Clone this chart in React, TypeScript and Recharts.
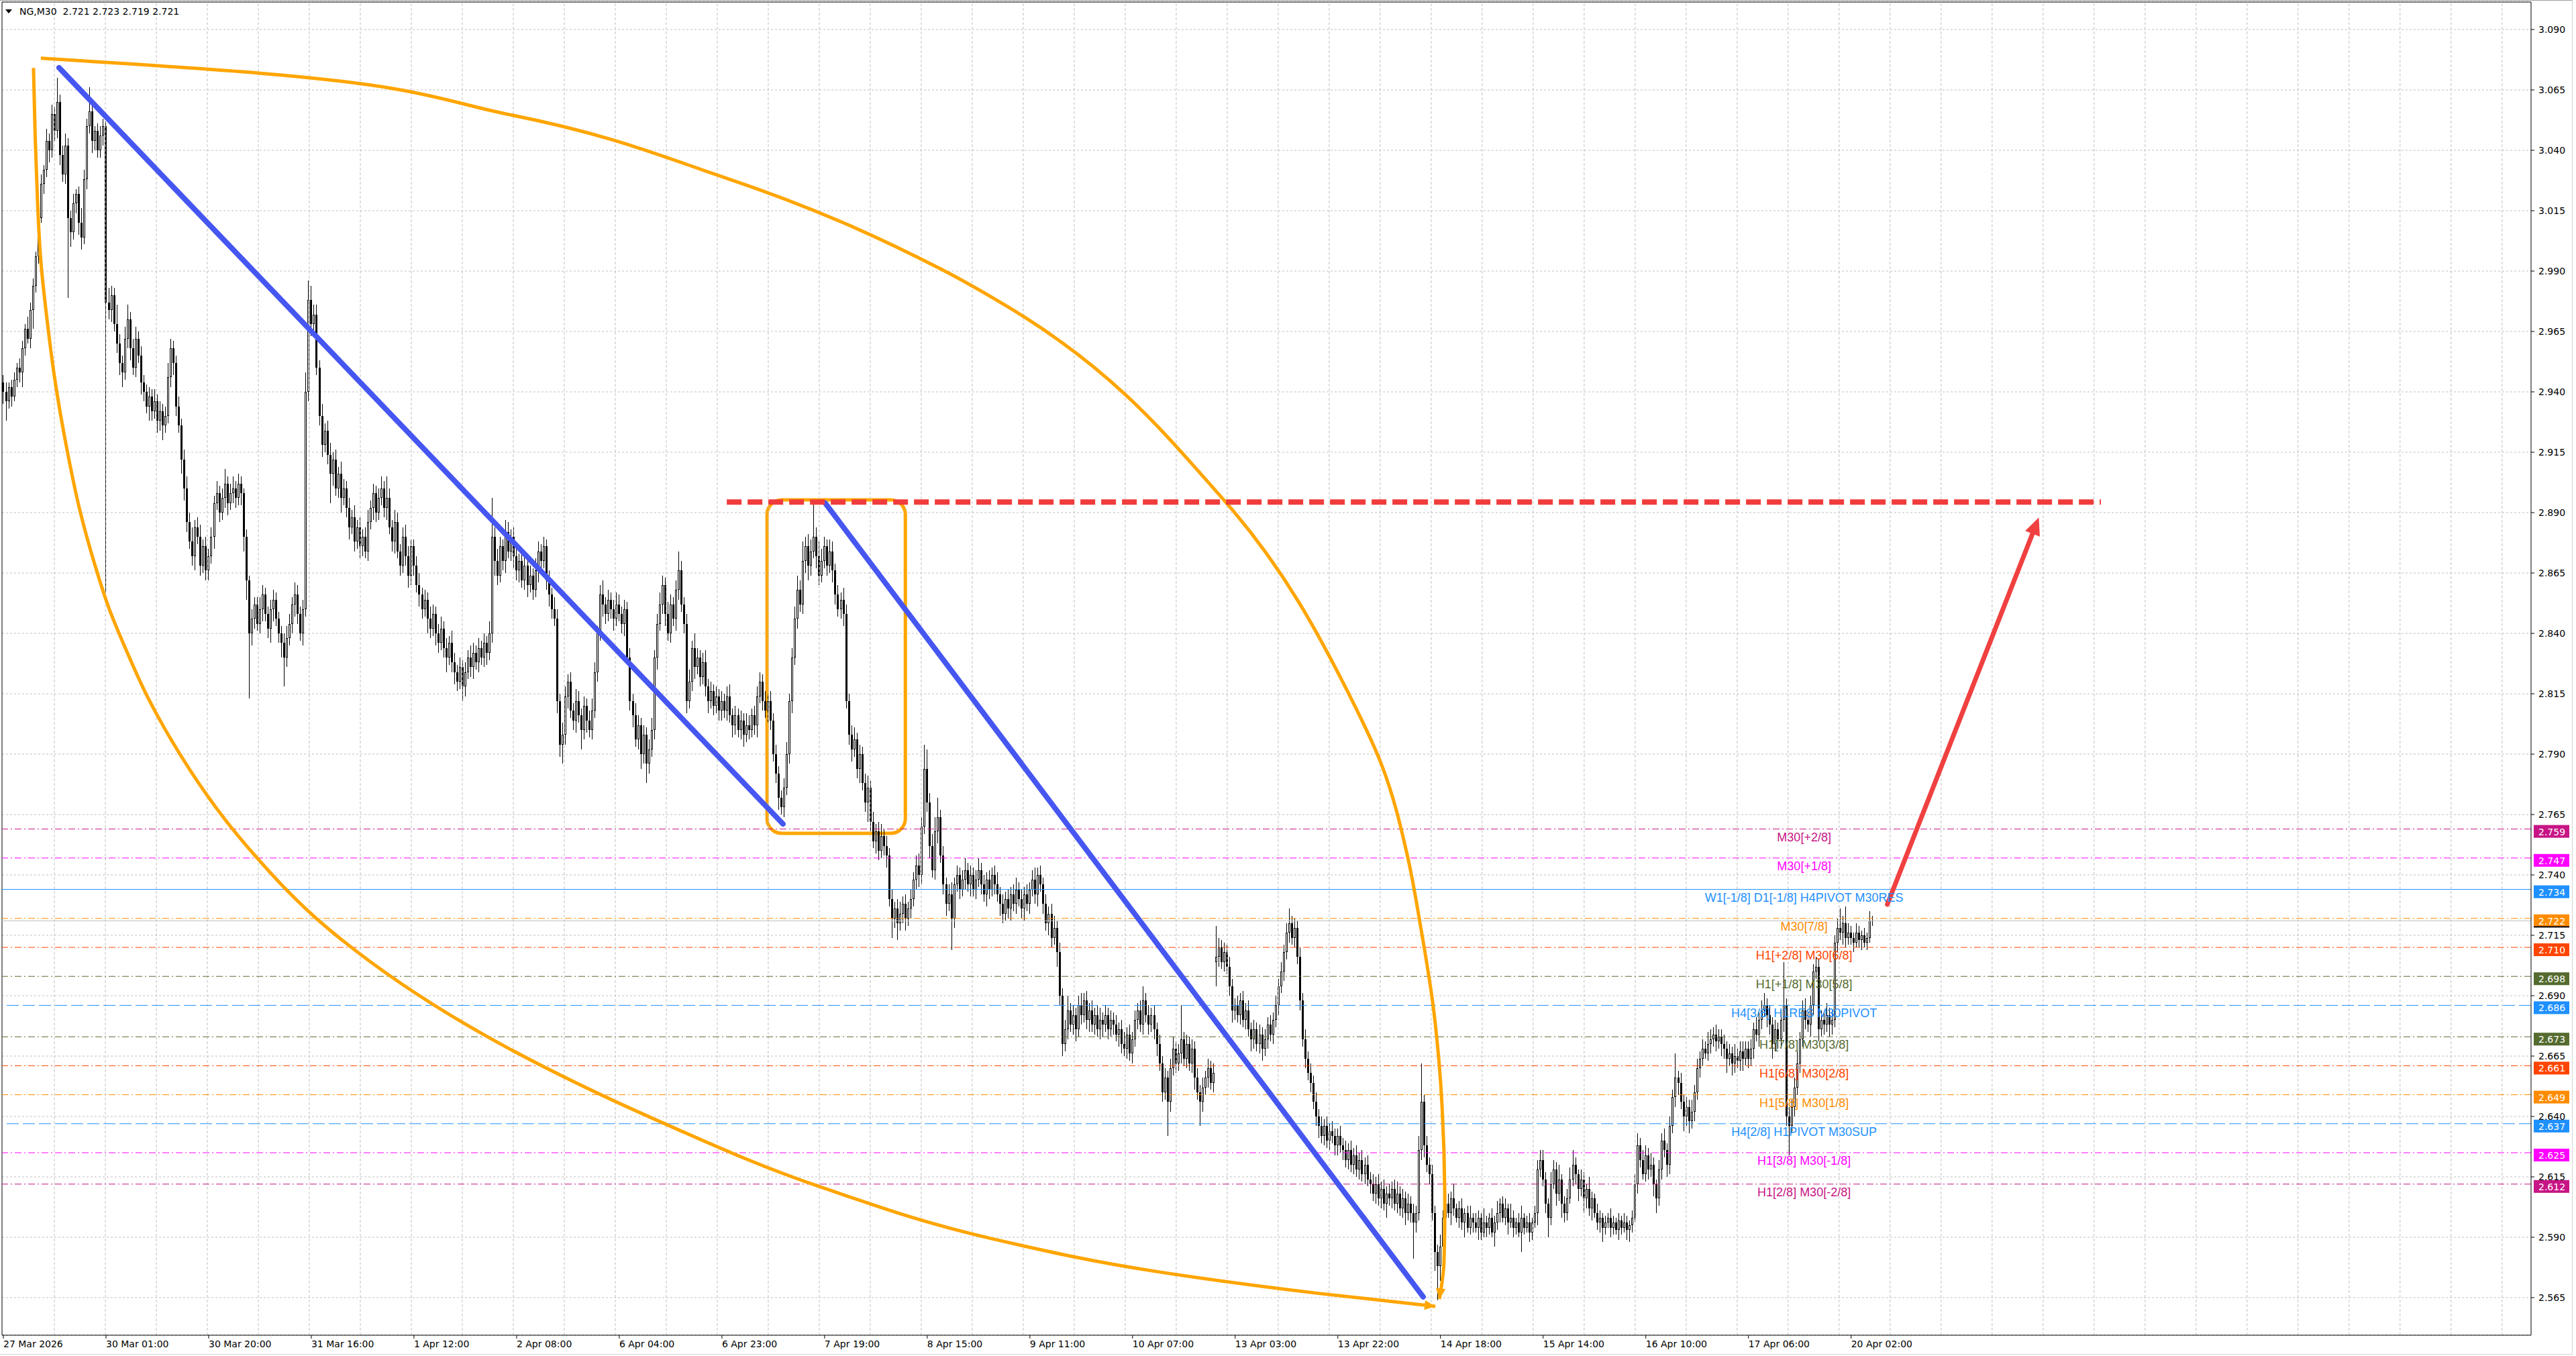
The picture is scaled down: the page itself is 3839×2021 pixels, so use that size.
import React from "react";
import {
  ComposedChart, Bar, Line, XAxis, YAxis, CartesianGrid,
  ReferenceLine, ReferenceArea, ReferenceDot,
} from "recharts";

const W = 3839;
const H = 2021;

// x = bar index (M30 bars), y = price
const xMin = -0.5;
const xMax = 935.7;
const yMin = 2.549446;
const yMax = 3.10139;

const header = "NG,M30  2.721 2.723 2.719 2.721";

const dateTicks = [0, 38, 76, 114, 152, 190, 228, 266, 304, 342, 380, 418, 456, 494, 532, 570, 608, 646, 684];
const dateLabels = [
  "27 Mar 2026", "30 Mar 01:00", "30 Mar 20:00", "31 Mar 16:00", "1 Apr 12:00", "2 Apr 08:00",
  "6 Apr 04:00", "6 Apr 23:00", "7 Apr 19:00", "8 Apr 15:00", "9 Apr 11:00", "10 Apr 07:00",
  "13 Apr 03:00", "13 Apr 22:00", "14 Apr 18:00", "15 Apr 14:00", "16 Apr 10:00", "17 Apr 06:00",
  "20 Apr 02:00",
];
const priceTicks = [
  2.565, 2.59, 2.615, 2.64, 2.665, 2.69, 2.715, 2.74, 2.765, 2.79, 2.815,
  2.84, 2.865, 2.89, 2.915, 2.94, 2.965, 2.99, 3.015, 3.04, 3.065, 3.09,
];
const gridStepBars = 18.877;

// closes in thousandths, one block per date label (38 bars)
const b00 = [2940, 2936, 2942, 2938, 2945, 2950, 2948, 2958, 2966, 2962, 2974, 2984, 2996, 3012, 3026, 3032, 3044, 3040, 3055, 3048, 3060, 3038, 3030, 3042, 3012, 3006, 3018, 3022, 3010, 3004, 3028, 3050, 3056, 3044, 3048, 3040, 3046, 3050];
const b01 = [2977, 2974, 2980, 2968, 2960, 2952, 2948, 2962, 2970, 2958, 2950, 2962, 2955, 2944, 2940, 2934, 2938, 2932, 2936, 2928, 2932, 2926, 2930, 2946, 2958, 2952, 2934, 2926, 2912, 2900, 2886, 2878, 2872, 2884, 2880, 2868, 2876, 2866];
const b02 = [2872, 2880, 2894, 2898, 2890, 2896, 2902, 2894, 2898, 2900, 2896, 2902, 2898, 2880, 2862, 2840, 2846, 2852, 2844, 2850, 2856, 2848, 2842, 2850, 2854, 2846, 2840, 2836, 2830, 2838, 2844, 2852, 2856, 2848, 2840, 2850, 2940, 2978];
const b03 = [2968, 2972, 2950, 2930, 2918, 2924, 2914, 2906, 2912, 2900, 2906, 2896, 2900, 2892, 2884, 2888, 2878, 2884, 2876, 2880, 2874, 2886, 2892, 2898, 2890, 2896, 2900, 2892, 2896, 2884, 2878, 2886, 2874, 2868, 2880, 2872, 2864, 2876];
const b04 = [2868, 2860, 2856, 2850, 2854, 2846, 2842, 2848, 2840, 2836, 2842, 2834, 2830, 2836, 2828, 2824, 2820, 2826, 2818, 2824, 2830, 2826, 2832, 2828, 2834, 2830, 2836, 2832, 2840, 2880, 2870, 2864, 2876, 2870, 2882, 2874, 2880, 2872];
const b05 = [2866, 2870, 2862, 2868, 2860, 2864, 2858, 2866, 2874, 2870, 2876, 2862, 2856, 2850, 2846, 2812, 2794, 2798, 2814, 2820, 2808, 2804, 2812, 2806, 2800, 2810, 2804, 2800, 2808, 2824, 2840, 2856, 2852, 2848, 2854, 2850, 2846, 2852];
const b06 = [2848, 2844, 2850, 2830, 2812, 2806, 2796, 2802, 2790, 2798, 2786, 2792, 2800, 2830, 2844, 2852, 2860, 2848, 2840, 2852, 2846, 2858, 2866, 2852, 2844, 2812, 2820, 2834, 2826, 2830, 2822, 2828, 2818, 2812, 2816, 2810, 2814, 2808];
const b07 = [2812, 2808, 2814, 2806, 2802, 2806, 2800, 2804, 2798, 2802, 2800, 2806, 2802, 2814, 2820, 2812, 2808, 2812, 2804, 2790, 2782, 2772, 2768, 2776, 2790, 2812, 2830, 2846, 2858, 2852, 2870, 2876, 2868, 2874, 2880, 2872, 2864, 2870];
const b08 = [2876, 2868, 2874, 2866, 2856, 2850, 2854, 2848, 2812, 2798, 2792, 2796, 2784, 2790, 2778, 2770, 2776, 2762, 2754, 2758, 2750, 2756, 2752, 2748, 2730, 2722, 2726, 2720, 2724, 2728, 2722, 2726, 2730, 2738, 2744, 2740, 2760, 2784];
const b09 = [2770, 2752, 2742, 2758, 2764, 2748, 2736, 2728, 2732, 2722, 2736, 2740, 2734, 2738, 2742, 2736, 2740, 2734, 2738, 2742, 2736, 2732, 2738, 2734, 2740, 2736, 2732, 2728, 2724, 2730, 2726, 2732, 2728, 2734, 2730, 2726, 2732, 2728];
const b10 = [2734, 2738, 2732, 2740, 2736, 2728, 2720, 2724, 2714, 2718, 2708, 2690, 2670, 2676, 2684, 2678, 2682, 2676, 2686, 2682, 2688, 2680, 2684, 2678, 2682, 2676, 2680, 2678, 2682, 2676, 2680, 2678, 2674, 2676, 2670, 2668, 2674, 2666];
const b11 = [2672, 2680, 2684, 2678, 2688, 2682, 2678, 2682, 2676, 2670, 2662, 2650, 2656, 2646, 2660, 2668, 2662, 2666, 2672, 2664, 2670, 2662, 2668, 2656, 2650, 2646, 2652, 2656, 2660, 2654, 2658, 2706, 2710, 2704, 2708, 2702, 2694, 2684];
const b12 = [2686, 2682, 2688, 2680, 2684, 2676, 2672, 2676, 2670, 2674, 2668, 2672, 2678, 2674, 2680, 2686, 2694, 2700, 2708, 2716, 2720, 2714, 2718, 2706, 2688, 2672, 2664, 2658, 2654, 2646, 2640, 2636, 2632, 2636, 2630, 2634, 2632, 2628];
const b13 = [2632, 2628, 2626, 2622, 2626, 2620, 2624, 2618, 2622, 2616, 2620, 2614, 2612, 2608, 2612, 2606, 2610, 2604, 2608, 2606, 2610, 2604, 2608, 2602, 2606, 2600, 2604, 2600, 2596, 2600, 2626, 2646, 2628, 2620, 2616, 2600, 2584, 2578];
const b14 = [2586, 2598, 2604, 2600, 2606, 2602, 2598, 2602, 2596, 2600, 2594, 2598, 2596, 2594, 2598, 2592, 2596, 2594, 2598, 2592, 2596, 2600, 2604, 2598, 2602, 2596, 2598, 2594, 2596, 2592, 2598, 2594, 2596, 2592, 2596, 2600, 2618, 2622];
const b15 = [2614, 2604, 2598, 2612, 2618, 2608, 2614, 2604, 2600, 2606, 2614, 2620, 2616, 2610, 2614, 2606, 2610, 2602, 2606, 2600, 2596, 2598, 2594, 2596, 2598, 2594, 2596, 2593, 2597, 2594, 2596, 2593, 2595, 2598, 2612, 2628, 2622, 2616];
const b16 = [2624, 2618, 2620, 2612, 2606, 2618, 2630, 2626, 2620, 2636, 2648, 2656, 2654, 2646, 2640, 2644, 2638, 2642, 2650, 2660, 2664, 2668, 2666, 2670, 2672, 2674, 2671, 2673, 2670, 2668, 2664, 2666, 2662, 2665, 2663, 2667, 2664, 2668];
const b17 = [2664, 2668, 2676, 2674, 2680, 2684, 2686, 2682, 2678, 2670, 2676, 2672, 2680, 2686, 2640, 2636, 2644, 2652, 2662, 2672, 2684, 2680, 2678, 2686, 2700, 2702, 2676, 2680, 2678, 2682, 2678, 2680, 2712, 2718, 2716, 2720, 2714, 2716];
const b18 = [2714, 2712, 2716, 2713, 2715, 2712, 2714, 2721, 2721];

// upper wicks (thousandths above the body)
const u00 = [3, 4, 2, 3, 3, 2, 4, 3, 2, 5, 3, 3, 2, 3, 4, 2, 5, 3, 4, 3, 10, 3, 4, 5, 3, 3, 4, 2, 3, 6, 4, 3, 10, 4, 2, 3, 4, 3];
const u01 = [2, 6, 4, 3, 8, 4, 3, 5, 6, 3, 4, 5, 3, 4, 3, 3, 4, 3, 5, 3, 4, 3, 4, 6, 4, 3, 3, 4, 3, 4, 5, 4, 6, 3, 4, 5, 3, 4];
const u02 = [3, 4, 3, 5, 3, 4, 6, 3, 4, 5, 3, 4, 3, 2, 3, 2, 4, 3, 3, 5, 4, 3, 3, 4, 4, 3, 3, 3, 4, 5, 4, 3, 5, 4, 3, 4, 8, 8];
const u03 = [6, 4, 4, 3, 5, 3, 4, 5, 3, 4, 3, 5, 4, 3, 4, 3, 5, 3, 4, 3, 4, 5, 3, 4, 3, 4, 5, 3, 9, 4, 3, 5, 4, 3, 4, 5, 4, 3];
const u04 = [3, 4, 5, 3, 4, 3, 5, 4, 3, 4, 5, 3, 4, 3, 5, 4, 3, 4, 3, 4, 3, 5, 4, 3, 4, 3, 4, 3, 5, 16, 4, 5, 4, 3, 5, 4, 3, 4];
const u05 = [4, 3, 5, 4, 3, 4, 3, 5, 4, 3, 4, 3, 4, 3, 5, 4, 3, 5, 4, 3, 4, 3, 5, 4, 3, 4, 3, 4, 5, 4, 3, 4, 6, 3, 4, 3, 4, 5];
const u06 = [4, 3, 4, 3, 4, 3, 5, 4, 3, 4, 3, 4, 5, 3, 4, 5, 4, 3, 5, 4, 3, 4, 8, 4, 3, 4, 5, 3, 6, 4, 3, 4, 5, 3, 4, 3, 4, 3];
const u07 = [4, 3, 4, 5, 3, 4, 3, 4, 3, 5, 4, 3, 4, 4, 4, 3, 4, 3, 4, 3, 4, 3, 3, 4, 5, 3, 4, 5, 6, 4, 8, 4, 5, 5, 14, 4, 6, 5];
const u08 = [4, 3, 5, 4, 3, 4, 3, 5, 4, 3, 4, 5, 3, 4, 3, 4, 5, 3, 4, 3, 4, 5, 3, 4, 3, 4, 3, 4, 5, 3, 4, 3, 4, 3, 4, 5, 4, 10];
const u09 = [8, 4, 5, 6, 8, 3, 4, 3, 4, 5, 3, 4, 3, 4, 5, 3, 4, 3, 4, 5, 3, 4, 3, 4, 3, 4, 5, 3, 4, 3, 4, 3, 4, 5, 3, 4, 3, 4];
const u10 = [3, 4, 5, 3, 4, 3, 4, 3, 4, 5, 3, 4, 3, 4, 6, 3, 4, 3, 4, 5, 3, 4, 3, 4, 3, 4, 5, 3, 4, 3, 4, 3, 4, 3, 4, 5, 3, 4];
const u11 = [3, 4, 3, 4, 6, 3, 4, 3, 4, 3, 4, 3, 4, 3, 4, 5, 3, 4, 14, 3, 4, 3, 4, 3, 4, 3, 4, 3, 4, 3, 4, 13, 4, 3, 4, 3, 4, 3];
const u12 = [3, 4, 3, 4, 3, 4, 3, 4, 3, 4, 3, 4, 3, 4, 3, 4, 3, 4, 3, 4, 6, 3, 4, 3, 4, 3, 4, 3, 4, 3, 4, 3, 4, 3, 4, 3, 4, 3];
const u13 = [3, 4, 3, 4, 3, 4, 3, 4, 3, 4, 3, 4, 3, 4, 3, 4, 3, 4, 3, 4, 3, 4, 5, 3, 4, 3, 4, 3, 4, 3, 6, 16, 3, 4, 3, 4, 3, 3];
const u14 = [5, 3, 2, 4, 3, 6, 2, 3, 4, 2, 3, 5, 2, 4, 3, 2, 6, 3, 2, 4, 3, 5, 2, 3, 4, 2, 6, 3, 2, 4, 5, 2, 3, 4, 2, 3, 4, 4];
const u15 = [4, 3, 2, 5, 4, 3, 6, 2, 3, 4, 5, 6, 3, 2, 4, 3, 2, 5, 3, 2, 4, 3, 2, 3, 2, 4, 3, 2, 3, 2, 4, 3, 2, 3, 4, 5, 3, 4];
const u16 = [4, 3, 5, 3, 2, 4, 3, 5, 3, 4, 3, 10, 3, 4, 3, 4, 3, 5, 3, 4, 3, 4, 3, 5, 4, 3, 4, 3, 3, 4, 3, 4, 3, 5, 3, 4, 4, 3];
const u17 = [3, 4, 3, 5, 3, 4, 5, 3, 4, 3, 4, 3, 4, 18, 3, 4, 3, 4, 5, 3, 4, 5, 3, 4, 3, 4, 3, 4, 3, 5, 3, 4, 3, 4, 8, 3, 7, 4];
const u18 = [3, 2, 4, 3, 2, 3, 2, 4, 2];

// lower wicks (thousandths below the body)
const d00 = [5, 8, 3, 4, 2, 3, 4, 6, 3, 2, 4, 8, 3, 3, 2, 4, 3, 5, 3, 4, 3, 4, 3, 4, 33, 6, 3, 4, 5, 5, 3, 4, 3, 5, 4, 3, 3, 4];
const d01 = [120, 4, 5, 3, 4, 5, 6, 3, 4, 5, 3, 4, 3, 5, 4, 3, 6, 4, 3, 5, 4, 6, 3, 3, 4, 5, 4, 3, 6, 5, 4, 3, 4, 6, 3, 4, 3, 4];
const d02 = [4, 3, 5, 3, 4, 3, 4, 5, 3, 4, 4, 3, 5, 6, 8, 27, 5, 4, 3, 4, 5, 3, 4, 6, 5, 3, 4, 6, 12, 4, 3, 4, 5, 4, 3, 5, 3, 4];
const d03 = [5, 4, 3, 4, 5, 3, 4, 12, 5, 3, 4, 6, 3, 4, 5, 3, 4, 3, 5, 4, 3, 4, 3, 5, 4, 3, 3, 4, 5, 3, 4, 5, 3, 4, 3, 4, 5, 4];
const d04 = [4, 3, 5, 4, 3, 6, 4, 3, 5, 4, 3, 4, 6, 3, 4, 5, 4, 3, 6, 4, 3, 4, 5, 3, 4, 3, 4, 5, 3, 4, 6, 4, 3, 4, 5, 3, 4, 5];
const d05 = [4, 5, 3, 4, 5, 3, 4, 3, 5, 4, 3, 4, 5, 4, 3, 5, 5, 8, 4, 5, 3, 4, 5, 3, 8, 4, 5, 3, 4, 3, 4, 3, 5, 4, 3, 4, 5, 3];
const d06 = [3, 4, 5, 3, 4, 5, 3, 4, 6, 4, 8, 4, 3, 4, 5, 3, 4, 5, 3, 4, 3, 5, 4, 3, 4, 5, 3, 4, 5, 3, 4, 3, 4, 5, 3, 4, 3, 4];
const d07 = [4, 3, 4, 3, 5, 4, 3, 4, 5, 3, 4, 3, 4, 5, 3, 4, 3, 5, 4, 3, 4, 5, 3, 4, 3, 4, 5, 3, 4, 3, 4, 5, 6, 4, 3, 5, 4, 3];
const d08 = [3, 4, 3, 5, 4, 3, 4, 5, 3, 4, 5, 3, 4, 6, 3, 4, 8, 4, 3, 5, 4, 3, 4, 5, 3, 8, 4, 7, 3, 4, 5, 3, 4, 3, 4, 5, 4, 3];
const d09 = [4, 5, 3, 4, 5, 3, 4, 5, 3, 13, 4, 3, 4, 3, 4, 3, 5, 3, 4, 3, 4, 3, 5, 4, 3, 4, 3, 5, 4, 3, 4, 5, 3, 4, 3, 4, 5, 3];
const d10 = [4, 3, 4, 5, 3, 4, 3, 5, 4, 3, 6, 4, 5, 3, 4, 3, 4, 5, 3, 4, 3, 4, 5, 3, 4, 3, 4, 5, 3, 4, 3, 4, 3, 5, 4, 3, 4, 3];
const d11 = [4, 3, 4, 3, 4, 3, 4, 3, 4, 5, 3, 4, 3, 14, 4, 3, 4, 3, 4, 3, 4, 3, 4, 5, 3, 10, 4, 3, 4, 3, 4, 10, 4, 3, 4, 3, 4, 5];
const d12 = [4, 3, 4, 3, 4, 3, 5, 4, 3, 4, 5, 3, 4, 3, 4, 3, 4, 3, 4, 3, 4, 3, 4, 3, 4, 3, 4, 3, 4, 3, 4, 5, 3, 4, 3, 4, 3, 4];
const d13 = [4, 3, 4, 3, 4, 3, 4, 3, 4, 3, 4, 3, 4, 3, 4, 3, 4, 3, 6, 3, 4, 3, 4, 3, 4, 5, 3, 4, 15, 4, 3, 4, 5, 3, 4, 3, 8, 14];
const d14 = [6, 3, 4, 2, 5, 3, 2, 4, 3, 6, 2, 3, 4, 2, 5, 3, 2, 4, 3, 2, 6, 3, 4, 2, 3, 5, 2, 4, 3, 2, 8, 3, 2, 4, 3, 2, 5, 3];
const d15 = [3, 4, 8, 3, 2, 5, 3, 6, 4, 3, 2, 3, 4, 5, 3, 6, 4, 3, 5, 2, 3, 4, 6, 3, 2, 4, 3, 2, 4, 3, 2, 4, 5, 3, 2, 4, 3, 2];
const d16 = [3, 4, 3, 5, 6, 3, 4, 3, 5, 4, 3, 4, 5, 3, 6, 4, 5, 3, 4, 3, 4, 3, 2, 3, 4, 3, 4, 3, 5, 4, 6, 3, 5, 4, 3, 4, 5, 3];
const d17 = [4, 3, 4, 3, 5, 4, 3, 5, 4, 6, 3, 4, 3, 5, 4, 12, 3, 4, 3, 4, 3, 4, 3, 5, 4, 3, 5, 3, 4, 3, 5, 4, 3, 4, 3, 5, 4, 3];
const d18 = [3, 4, 2, 3, 4, 2, 3, 2, 2];

const firstOpen = 2944;
const gapOpens: Record<number, number> = { 449: 2704 };

// Murrey-style levels on the right
const levelPrices = [2.759, 2.747, 2.734, 2.722, 2.71, 2.698, 2.686, 2.673, 2.661, 2.649, 2.637, 2.625, 2.612];
const levelNames = [
  "M30[+2/8]", "M30[+1/8]", "W1[-1/8] D1[-1/8] H4PIVOT M30RES", "M30[7/8]", "H1[+2/8] M30[6/8]",
  "H1[+1/8] M30[5/8]", "H4[3/8] H1RES M30PIVOT", "H1[7/8] M30[3/8]", "H1[6/8] M30[2/8]",
  "H1[5/8] M30[1/8]", "H4[2/8] H1PIVOT M30SUP", "H1[3/8] M30[-1/8]", "H1[2/8] M30[-2/8]",
];
const levelColors = [
  "#C71585", "#FF00FF", "#1E90FF", "#FF8C00", "#FF4500", "#556B2F", "#1E90FF",
  "#556B2F", "#FF4500", "#FF8C00", "#1E90FF", "#FF00FF", "#C71585",
];
const levelStyles = ["dd", "dd", "s", "dd", "dd", "dd", "d", "dd", "dd", "dd", "d", "dd", "dd"];
const levelLabelBar = 666.6;
const bidPrice = 2.721;

// drawn objects (bar index, price)
const trend1 = [{ x: 20.6, y: 3.0742 }, { x: 288.6, y: 2.7611 }];
const trend2 = [{ x: 304.2, y: 2.894 }, { x: 525.6, y: 2.5653 }];
const resistance = [{ x: 267.8, y: 2.8944 }, { x: 776.5, y: 2.8944 }];
const forecast = [{ x: 697.4, y: 2.7278 }, { x: 753.5, y: 2.888 }];
const boxBars = [282.7, 333.9];
const boxPrices = [2.7572, 2.8953];

const upperArc = [
  { i: 13.9, p: 3.0781 }, { i: 95.2, p: 3.0719 }, { i: 187.7, p: 3.0547 }, { i: 267.3, p: 3.0286 },
  { i: 346.6, p: 2.9911 }, { i: 371.7, p: 2.9753 }, { i: 451.5, p: 2.8956 }, { i: 500.0, p: 2.8106 },
  { i: 510.2, p: 2.7856 }, { i: 519.9, p: 2.7472 }, { i: 524.6, p: 2.7189 }, { i: 529.3, p: 2.6856 },
  { i: 532.6, p: 2.6439 }, { i: 533.6, p: 2.6025 }, { i: 533.3, p: 2.58 }, { i: 531.6, p: 2.5644 },
];
const lowerArc = [
  { i: 11.15, p: 3.0741 }, { i: 11.77, p: 3.046 }, { i: 12.59, p: 3.0205 }, { i: 13.81, p: 2.9949 },
  { i: 16.22, p: 2.9694 }, { i: 19.22, p: 2.9439 }, { i: 23.45, p: 2.9167 }, { i: 28.27, p: 2.8912 },
  { i: 33.68, p: 2.8691 }, { i: 39.1, p: 2.8504 }, { i: 45.7, p: 2.8325 }, { i: 53.55, p: 2.8133 },
  { i: 59.6, p: 2.8008 }, { i: 89.9, p: 2.7522 }, { i: 120.5, p: 2.7175 }, { i: 181.3, p: 2.6717 },
  { i: 242.2, p: 2.6383 }, { i: 303.1, p: 2.6106 }, { i: 366.7, p: 2.5892 }, { i: 426.9, p: 2.5758 },
  { i: 487.3, p: 2.5667 }, { i: 530.1, p: 2.5614 },
];

const closes = [b00, b01, b02, b03, b04, b05, b06, b07, b08, b09, b10, b11, b12, b13, b14, b15, b16, b17, b18].flat();
const upWick = [u00, u01, u02, u03, u04, u05, u06, u07, u08, u09, u10, u11, u12, u13, u14, u15, u16, u17, u18].flat();
const dnWick = [d00, d01, d02, d03, d04, d05, d06, d07, d08, d09, d10, d11, d12, d13, d14, d15, d16, d17, d18].flat();

const candles = closes.map((c, i) => {
  const o = gapOpens[i] ?? (i === 0 ? firstOpen : closes[i - 1]);
  const hi = Math.max(o, c) + (upWick[i] ?? 3);
  const lo = Math.min(o, c) - (dnWick[i] ?? 3);
  return { i, o: o / 1000, c: c / 1000, h: hi / 1000, l: lo / 1000, range: [lo / 1000, hi / 1000] };
});

const vGrid = Array.from({ length: 49 }, (_, k) => (k + 1) * gridStepBars);

const ORANGE = "#FFA500";
const BLUE = "#4656F0";
const RED = "#F03C3C";

function dashOf(s: string) {
  if (s === "d") return "18 6";
  if (s === "dd") return "10 4 2 4";
  return undefined;
}

function Candle(props: any) {
  const { x, y, width, height, payload } = props;
  if (!payload || x == null || y == null || height == null) return null;
  const { o, h, l, c } = payload;
  const top = Math.min(y, y + height);
  const bot = Math.max(y, y + height);
  const k = h > l ? (bot - top) / (h - l) : 0;
  const py = (v: number) => top + (h - v) * k;
  const left = Math.round(x + width / 2 - 1.5);
  const mid = left + 1.5;
  const bTop = Math.round(py(Math.max(o, c)));
  const bBot = Math.round(py(Math.min(o, c)));
  const wick = <line x1={mid} x2={mid} y1={Math.round(py(h))} y2={Math.round(py(l))} stroke="#000" strokeWidth={1} />;
  if (bBot - bTop < 1) {
    return (
      <g>
        {wick}
        <line x1={left} x2={left + 3} y1={bTop + 0.5} y2={bTop + 0.5} stroke="#000" strokeWidth={1} />
      </g>
    );
  }
  if (c >= o) {
    return (
      <g>
        {wick}
        <rect x={left + 0.5} y={bTop + 0.5} width={2} height={Math.max(1, bBot - bTop - 1)} fill="#fff" stroke="#000" strokeWidth={1} />
      </g>
    );
  }
  return (
    <g>
      {wick}
      <rect x={left} y={bTop} width={3} height={bBot - bTop} fill="#000" />
    </g>
  );
}

function arrowShape(color: string, width: number, head: number, drawLine: boolean) {
  return (p: any) => {
    const { x1, y1, x2, y2 } = p;
    const ang = Math.atan2(y2 - y1, x2 - x1);
    const bx = x2 - head * Math.cos(ang);
    const by = y2 - head * Math.sin(ang);
    const nx = -Math.sin(ang) * head * 0.45;
    const ny = Math.cos(ang) * head * 0.45;
    return (
      <g>
        {drawLine && (
          <line x1={x1} y1={y1} x2={bx} y2={by} stroke={color} strokeWidth={width} strokeLinecap="round" />
        )}
        <polygon points={`${x2},${y2} ${bx + nx},${by + ny} ${bx - nx},${by - ny}`} fill={color} />
      </g>
    );
  };
}

function DateTick(props: any) {
  const { x, y, payload } = props;
  const k = dateTicks.indexOf(payload.value);
  return (
    <text x={x} y={y + 11} textAnchor="start" fill="#000" fontSize={14} fontFamily="DejaVu Sans, sans-serif">
      {dateLabels[k] ?? ""}
    </text>
  );
}

export default function App() {
  return (
    <div
      style={{
        position: "absolute", left: 0, top: 0, width: W, height: H,
        background: "#fff", overflow: "hidden", fontFamily: "DejaVu Sans, sans-serif",
      }}
    >
      <ComposedChart width={W} height={H} data={candles} margin={{ top: 3, right: 0, bottom: 0, left: 3 }}>
        <CartesianGrid vertical={false} stroke="#c0c0c0" strokeDasharray="3 3" />
        {vGrid.map((v, k) => (
          <ReferenceLine key={`vg${k}`} x={v} stroke="#c0c0c0" strokeDasharray="4 3" />
        ))}
        <XAxis
          type="number" dataKey="i" domain={[xMin, xMax]} allowDataOverflow
          ticks={dateTicks} interval={0} height={31} tickSize={5} tickMargin={2}
          axisLine={{ stroke: "#000" }} tickLine={{ stroke: "#000" }} tick={<DateTick />}
        />
        <YAxis
          type="number" orientation="right" domain={[yMin, yMax]} allowDataOverflow
          ticks={priceTicks} interval={0} width={67} tickSize={5} tickMargin={6}
          tickFormatter={(v: number) => v.toFixed(3)}
          axisLine={{ stroke: "#000" }} tickLine={{ stroke: "#000" }}
          tick={{ fill: "#000", fontSize: 14, fontFamily: "DejaVu Sans, sans-serif" }}
        />
        <ReferenceLine x={xMin} stroke="#000" />
        <ReferenceLine y={yMax} stroke="#000" />

        {levelPrices.map((p, k) => (
          <ReferenceLine
            key={`lv${k}`} y={p} stroke={levelColors[k]} strokeWidth={1}
            strokeDasharray={dashOf(levelStyles[k])}
          />
        ))}
        <ReferenceLine y={bidPrice} stroke="#c0c0c0" strokeWidth={1} />

        <Bar dataKey="range" barSize={3} shape={<Candle />} isAnimationActive={false} />

        {levelPrices.map((p, k) => (
          <ReferenceDot
            key={`lt${k}`} x={levelLabelBar} y={p} r={0}
            shape={(s: any) => (
              <text
                x={s.cx} y={s.cy + 18} textAnchor="middle" fill={levelColors[k]}
                fontSize={18} fontFamily="Liberation Sans, Arial, sans-serif"
              >
                {levelNames[k]}
              </text>
            )}
          />
        ))}

        <ReferenceArea
          x1={boxBars[0]} x2={boxBars[1]} y1={boxPrices[0]} y2={boxPrices[1]}
          shape={(s: any) => (
            <rect x={s.x} y={s.y} width={s.width} height={s.height} rx={22} ry={22} fill="none" stroke={ORANGE} strokeWidth={5} />
          )}
        />

        <Line data={upperArc} dataKey="p" type="monotoneY" dot={false} stroke={ORANGE} strokeWidth={5} isAnimationActive={false} />
        <Line data={lowerArc} dataKey="p" type="monotoneY" dot={false} stroke={ORANGE} strokeWidth={5} isAnimationActive={false} />
        <ReferenceLine
          segment={[{ x: upperArc[upperArc.length - 2].i, y: upperArc[upperArc.length - 2].p }, { x: upperArc[upperArc.length - 1].i, y: upperArc[upperArc.length - 1].p }]}
          shape={arrowShape(ORANGE, 5, 16, false)}
        />
        <ReferenceLine
          segment={[{ x: lowerArc[lowerArc.length - 2].i, y: lowerArc[lowerArc.length - 2].p }, { x: lowerArc[lowerArc.length - 1].i, y: lowerArc[lowerArc.length - 1].p }]}
          shape={arrowShape(ORANGE, 5, 16, false)}
        />

        <ReferenceLine segment={trend1} stroke={BLUE} strokeWidth={8} strokeLinecap="round" />
        <ReferenceLine segment={trend2} stroke={BLUE} strokeWidth={8} strokeLinecap="round" />
        <ReferenceLine segment={resistance} stroke={RED} strokeWidth={8} strokeDasharray="22 9" />
        <ReferenceLine segment={forecast} shape={arrowShape("#F04040", 7, 26, true)} />

        {levelPrices.map((p, k) => (
          <ReferenceDot
            key={`lb${k}`} x={xMax} y={p} r={0}
            shape={(s: any) => (
              <g>
                <rect x={s.cx + 4} y={s.cy - 6} width={53} height={19} fill={levelColors[k]} />
                <text x={s.cx + 11} y={s.cy + 9} fill="#fff" fontSize={14} fontFamily="DejaVu Sans, sans-serif">
                  {p.toFixed(3)}
                </text>
              </g>
            )}
          />
        ))}
        <ReferenceDot
          x={xMax} y={bidPrice} r={0}
          shape={(s: any) => <rect x={s.cx + 4} y={s.cy + 8} width={53} height={2} fill="#000" />}
        />
      </ComposedChart>

      <div
        style={{
          position: "absolute", left: 8, top: 14, width: 0, height: 0,
          borderLeft: "5.5px solid transparent", borderRight: "5.5px solid transparent", borderTop: "6px solid #000",
        }}
      />
      <div style={{ position: "absolute", left: 29, top: 9, fontSize: 14, lineHeight: "17px", color: "#000", whiteSpace: "pre" }}>
        {header}
      </div>
      <div
        style={{
          position: "absolute", left: 0, top: 0, width: 3833, height: 2017, pointerEvents: "none",
          borderTop: "1px solid #a0a0a0", borderRight: "1px solid #d4d4d4", borderBottom: "1px solid #d4d4d4",
        }}
      />
    </div>
  );
}
